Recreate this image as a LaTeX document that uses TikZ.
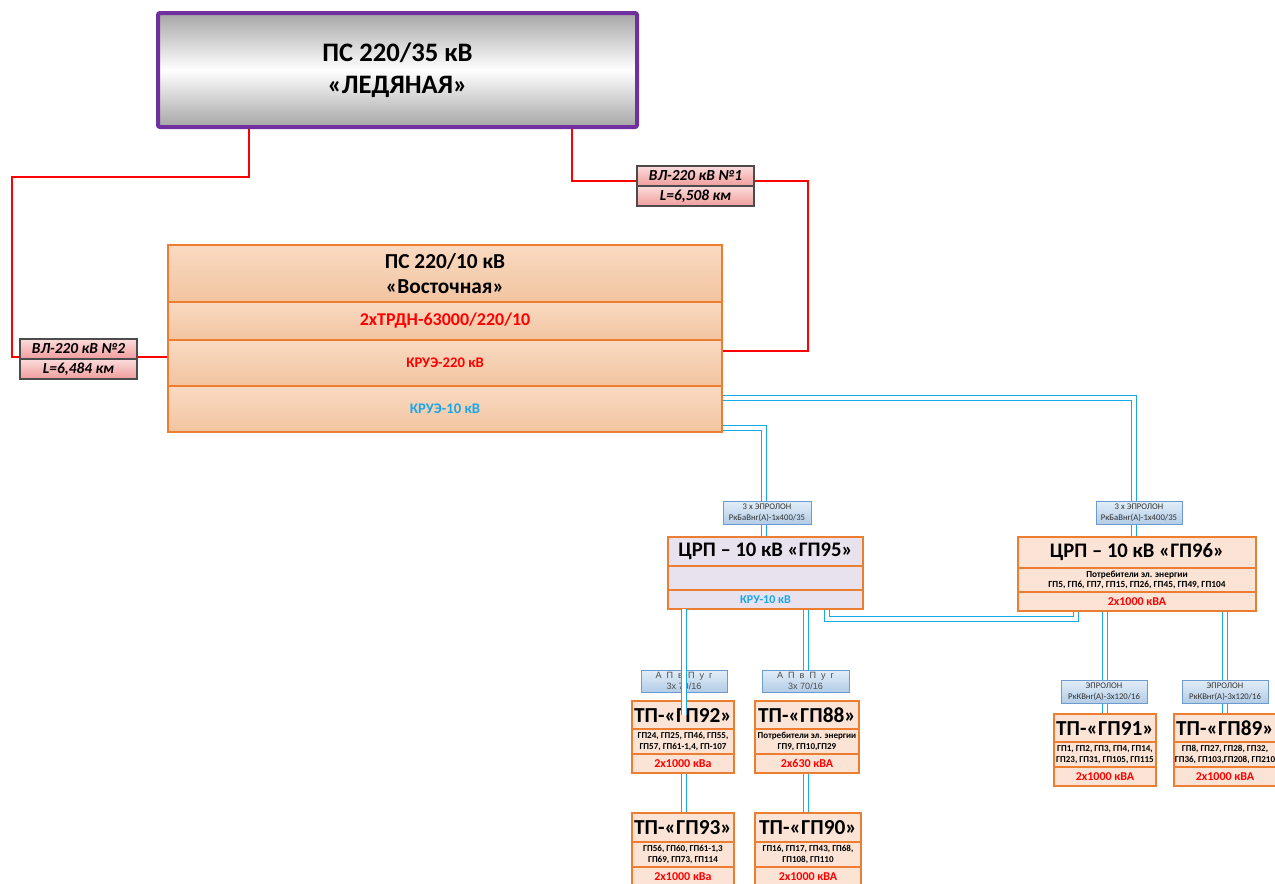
\documentclass[tikz,border=0pt]{standalone}
\usepackage{fontspec}
\setmainfont{Carlito}
\newfontfamily\arialf{Liberation Sans}
\usetikzlibrary{calc,backgrounds}
\definecolor{ledpurple}{HTML}{7030A0}
\definecolor{boxorange}{HTML}{ED7D31}
\definecolor{cableblue}{HTML}{17AAE8}
\definecolor{txtblue}{HTML}{1AA7E8}
\definecolor{peach}{HTML}{FBE4D5}
\definecolor{lav}{HTML}{E8E2EE}
\definecolor{pstop}{HTML}{F9DAC2}
\definecolor{psbot}{HTML}{F2C4A0}
\definecolor{pinktop}{HTML}{FCDCDC}
\definecolor{pinkbot}{HTML}{F09C9C}
\definecolor{lbltop}{HTML}{E2EEF8}
\definecolor{lblbot}{HTML}{B3CCE6}
\definecolor{lblborder}{HTML}{6C9BD2}
\begin{document}
\begin{tikzpicture}[x=0.75pt,y=-0.75pt,
  wh/.style 2 args={minimum width=#1*0.75pt, minimum height=#2*0.75pt},
  fs/.style 2 args={font=\fontsize{#1}{#2}\selectfont\bfseries},
  cell/.style={draw=boxorange, line width=1.6pt, anchor=north west, outer sep=0pt,
    inner sep=0pt, align=center},
  psrow/.style={cell, top color=pstop, bottom color=psbot},
  tp/.style={cell, fill=peach},
  vl/.style={draw=black!70, line width=0.9pt, top color=pinktop, bottom color=pinkbot,
    anchor=north west, outer sep=0pt, inner sep=0pt,
    font=\fontsize{11.5}{13}\selectfont\bfseries\itshape},
  cl/.style={draw=lblborder, line width=0.7pt, top color=lbltop, bottom color=lblbot,
    anchor=north west, outer sep=0pt, inner sep=0pt, align=center,
    font=\fontsize{6.5}{8}\selectfont, text=black!80},
  apv/.style={cl, font=\arialf\fontsize{6.8}{8.2}\selectfont, text=black!70},
  cable/.style={draw=cableblue, double=white, double distance=2.4pt, line width=1.05pt},
  redl/.style={draw=red, line width=0.9pt}]
\useasboundingbox (0,0) rectangle (1275,883);
\clip (0,0) rectangle (1275,883);

% --- substations ---
\node[draw=ledpurple, line width=3pt, rounded corners=1.5pt,
  top color=black!35, bottom color=black!35, middle color=white,
  anchor=north west, outer sep=0pt, inner sep=0pt, align=center, wh={479}{114},
  fs={20}{24}] (led) at (158,13) {ПС 220/35 кВ\\«ЛЕДЯНАЯ»};

\node[psrow, wh={554}{57}, fs={16}{19}] (ps1) at (168,245) {ПС 220/10 кВ\\«Восточная»};
\node[psrow, wh={554}{38}, fs={13.5}{16}, text=red] (ps2) at (168,302) {2хТРДН-63000/220/10};
\node[psrow, wh={554}{46}, fs={11}{13}, text=red] (ps3) at (168,340) {КРУЭ-220 кВ};
\node[psrow, wh={554}{46}, fs={11}{13}, text=txtblue] (ps4) at (168,386) {КРУЭ-10 кВ};

% --- overhead lines 220 kV ---
\node[vl, wh={117}{20}] (vl1a) at (637,166) {ВЛ-220 кВ №1};
\node[vl, wh={117}{20}] (vl1b) at (637,186) {L=6,508 км};
\node[vl, wh={117}{20}] (vl2a) at (20,339) {ВЛ-220 кВ №2};
\node[vl, wh={117}{20}] (vl2b) at (20,359) {L=6,484 км};

\coordinate (r1) at (249,177);
\coordinate (r2) at (12,357);
\coordinate (r3) at (572,181);
\coordinate (r4) at (808,351);
\begin{scope}[on background layer]
\draw[redl] (led.south -| r1) -- (r1) -| (r2) -- (r2 -| vl2a.west);
\draw[redl] (r2 -| vl2a.east) -- (r2 -| ps3.west);
\draw[redl] (led.south -| r3) -- (r3) -- (r3 -| vl1a.west);
\draw[redl] (r3 -| vl1a.east) -| (r4) -- (r4 -| ps3.east);
\end{scope}

% --- central distribution points ---
\node[cell, fill=lav, wh={195}{29}, fs={15.5}{18}] (crp95a) at (668,537) {ЦРП – 10 кВ «ГП95»};
\node[cell, fill=lav, wh={195}{24}] (crp95b) at (668,566) {};
\node[cell, fill=lav, wh={195}{19}, fs={9}{11}, text=txtblue] (crp95c) at (668,590) {КРУ-10 кВ};

\node[tp, wh={238}{31}, fs={15.5}{18}] (crp96a) at (1018,537) {ЦРП – 10 кВ «ГП96»};
\node[tp, wh={238}{24}, fs={7}{8}] (crp96b) at (1018,568) {Потребители эл. энергии\\ГП5, ГП6, ГП7, ГП15, ГП26, ГП45, ГП49, ГП104};
\node[tp, wh={238}{19}, fs={9}{11}, text=red] (crp96c) at (1018,592) {2х1000 кВА};

% --- transformer substations ---
\node[tp, wh={102}{28}, fs={16}{19}] (tp92a) at (632,701) {ТП-«ГП92»};
\node[tp, wh={102}{25}, fs={6.8}{8.3}] (tp92b) at (632,729) {ГП24, ГП25, ГП46, ГП55,\\ГП57, ГП61-1,4, ГП-107};
\node[tp, wh={102}{19}, fs={9}{11}, text=red] (tp92c) at (632,754) {2х1000 кВа};

\node[tp, wh={104}{28}, fs={16}{19}] (tp88a) at (755,701) {ТП-«ГП88»};
\node[tp, wh={104}{25}, fs={6.8}{8.3}] (tp88b) at (755,729) {Потребители эл. энергии\\ГП9, ГП10,ГП29};
\node[tp, wh={104}{19}, fs={9}{11}, text=red] (tp88c) at (755,754) {2х630 кВА};

\node[tp, wh={102}{29}, fs={16}{19}] (tp93a) at (632,813) {ТП-«ГП93»};
\node[tp, wh={102}{25}, fs={6.8}{8.3}] (tp93b) at (632,842) {ГП56, ГП60, ГП61-1,3\\ГП69, ГП73, ГП114};
\node[tp, wh={102}{20}, fs={9}{11}, text=red] (tp93c) at (632,867) {2х1000 кВа};

\node[tp, wh={106}{29}, fs={16}{19}] (tp90a) at (755,813) {ТП-«ГП90»};
\node[tp, wh={106}{25}, fs={6.8}{8.3}] (tp90b) at (755,842) {ГП16, ГП17, ГП43, ГП68,\\ГП108, ГП110};
\node[tp, wh={106}{20}, fs={9}{11}, text=red] (tp90c) at (755,867) {2х1000 кВА};

\node[tp, wh={102}{28}, fs={16}{19}] (tp91a) at (1054,714) {ТП-«ГП91»};
\node[tp, wh={102}{25}, fs={6.8}{8.3}] (tp91b) at (1054,742) {ГП1, ГП2, ГП3, ГП4, ГП14,\\ГП23, ГП31, ГП105, ГП115};
\node[tp, wh={102}{19}, fs={9}{11}, text=red] (tp91c) at (1054,767) {2х1000 кВА};

\node[tp, wh={102}{28}, fs={16}{19}] (tp89a) at (1174,714) {ТП-«ГП89»};
\node[tp, wh={102}{25}, fs={6.8}{8.3}] (tp89b) at (1174,742) {ГП8, ГП27, ГП28, ГП32,\\ГП36, ГП103,ГП208, ГП210};
\node[tp, wh={102}{19}, fs={9}{11}, text=red] (tp89c) at (1174,767) {2х1000 кВА};

% --- cable labels ---
\newcommand{\apvtext}{А\hspace{.55em}П\hspace{.55em}в\hspace{.55em}П\hspace{.55em}у\hspace{.55em}г\\3х 70/16}
\node[cl, wh={88}{23}] (lbl95) at (723,501) {3 x ЭПРОЛОН\\РкБаВнг(А)-1x400/35};
\node[cl, wh={86}{23}] (lbl96) at (1096,501) {3 x ЭПРОЛОН\\РкБаВнг(А)-1x400/35};
\node[apv, wh={86}{22}] (lbl92) at (641,670) {\apvtext};
\node[apv, wh={87}{22}] (lbl88) at (762,670) {\apvtext};
\node[cl, wh={86}{23}] (lbl91) at (1061,680) {ЭПРОЛОН\\РкКВнг(А)-3х120/16};
\node[cl, wh={86}{23}] (lbl89) at (1182,680) {ЭПРОЛОН\\РкКВнг(А)-3х120/16};

% --- 10 kV cables ---
\coordinate (ca) at (1134,398);
\coordinate (cb) at (764,428);
\coordinate (cc1) at (827,619);
\coordinate (cc2) at (1076,619);
\coordinate (xd) at (684,700);
\coordinate (xe) at (806,700);
\coordinate (xh) at (1105,700);
\coordinate (xi) at (1225,700);
\begin{scope}[on background layer]
\draw[cable] (ca -| ps4.east) -- (ca) -- (ca |- crp96a.north);
\draw[cable] (cb -| ps4.east) -- (cb) -- (cb |- crp95a.north);
\draw[cable] (cc1 |- crp95c.south) -- (cc1) -- (cc2) -- (cc2 |- crp96c.south);
\draw[cable] (xd |- tp92c.south) -- (xd |- tp93a.north);
\draw[cable] (xe |- crp95c.south) -- (xe |- lbl88.north);
\draw[cable] (xe |- tp88c.south) -- (xe |- tp90a.north);
\draw[cable] (xh |- crp96c.south) -- (xh |- tp91a.north);
\draw[cable] (xi |- crp96c.south) -- (xi |- tp89a.north);
\end{scope}
\draw[cable] (xd |- crp95c.south) -- (xd |- tp92a.center);
\end{tikzpicture}
\end{document}
